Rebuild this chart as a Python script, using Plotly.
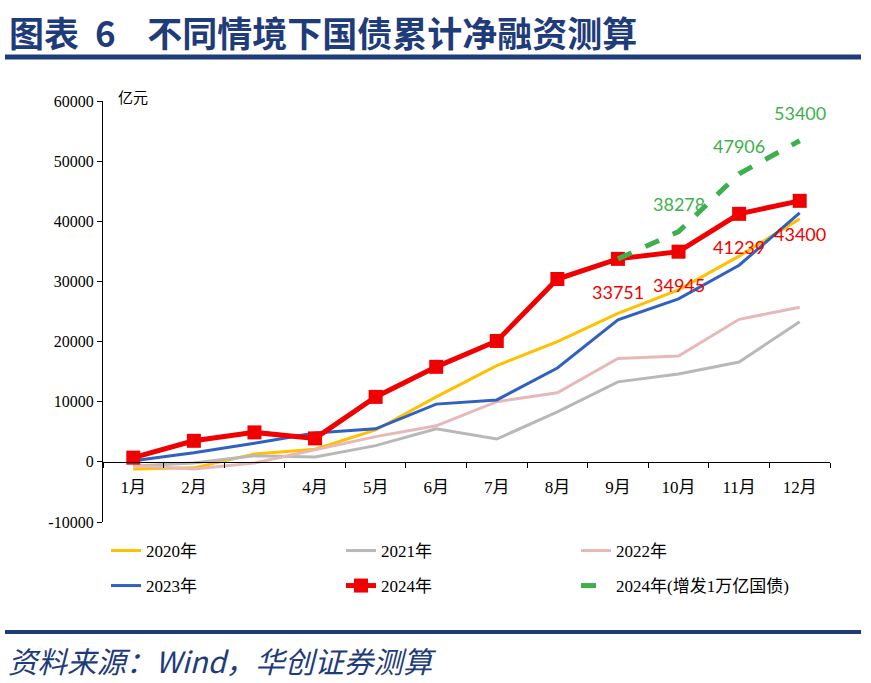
import plotly.graph_objects as go

months = ["1月", "2月", "3月", "4月", "5月", "6月", "7月", "8月", "9月", "10月", "11月", "12月"]
y2020 = [-1200, -1000, 1300, 2100, 5300, 10800, 16000, 20000, 24700, 28600, 34200, 40400]
y2021 = [-700, -200, 1000, 800, 2700, 5500, 3800, 8300, 13300, 14600, 16600, 23300]
y2022 = [-600, -1200, -200, 2000, 4200, 6000, 10000, 11500, 17200, 17600, 23700, 25700]
y2023 = [200, 1500, 3100, 4800, 5500, 9600, 10300, 15600, 23600, 27100, 32700, 41400]
y2024 = [700, 3500, 4900, 3900, 10800, 15800, 20100, 30400, 33751, 34945, 41239, 43400]
extra_months = ["9月", "10月", "11月", "12月"]
y2024_extra = [33751, 38278, 47906, 53400]
red_label_months = ["9月", "10月", "11月", "12月"]
red_labels = [33751, 34945, 41239, 43400]
green_label_months = ["10月", "11月", "12月"]
green_labels = [38278, 47906, 53400]
yticks = [-10000, 0, 10000, 20000, 30000, 40000, 50000, 60000]

W, H = 871, 683
L, R, T, B = 103, 41, 101, 161
pw, ph = W - L - R, H - T - B
def px(x):
    return (x - L) / pw
def py(y):
    return (H - B - y) / ph

NAVY = "#1F3C7A"
serif = "Liberation Serif, Noto Sans CJK SC"

fig = go.Figure()
fig.add_trace(go.Scatter(x=months, y=y2020, mode="lines", name="2020年",
                         line=dict(color="#FFC000", width=3), legend="legend"))
fig.add_trace(go.Scatter(x=months, y=y2021, mode="lines", name="2021年",
                         line=dict(color="#B8B8B8", width=3), legend="legend"))
fig.add_trace(go.Scatter(x=months, y=y2022, mode="lines", name="2022年",
                         line=dict(color="#E6B9B8", width=3), legend="legend"))
fig.add_trace(go.Scatter(x=months, y=y2023, mode="lines", name="2023年",
                         line=dict(color="#2F62C0", width=3), legend="legend2"))
fig.add_trace(go.Scatter(x=months, y=y2024, mode="lines+markers", name="2024年",
                         line=dict(color="#F00000", width=5),
                         marker=dict(symbol="square", size=14, color="#F00000"),
                         legend="legend2"))
fig.add_trace(go.Scatter(x=extra_months, y=y2024_extra, mode="lines", name="2024年(增发1万亿国债)",
                         line=dict(color="#3DB04B", width=5, dash="dash"), legend="legend2"))

annotations = []
for m, v in zip(red_label_months, red_labels):
    annotations.append(dict(x=m, y=v, xref="x", yref="y", text=str(v), showarrow=False,
                            yshift=-33, font=dict(family="Lato", size=18, color="#F00000")))
for m, v in zip(green_label_months, green_labels):
    annotations.append(dict(x=m, y=v, xref="x", yref="y", text=str(v), showarrow=False,
                            yshift=28, font=dict(family="Lato", size=18, color="#3DB04B")))

annotations.append(dict(x=px(7), y=py(32), xref="paper", yref="paper", xanchor="left", yanchor="middle",
                        text="<b>图表  6    不同情境下国债累计净融资测算</b>", showarrow=False,
                        font=dict(family="Noto Sans CJK SC", size=35, color=NAVY)))
annotations.append(dict(x=px(6), y=py(660), xref="paper", yref="paper", xanchor="left", yanchor="middle",
                        text="<i>资料来源：Wind，华创证券测算</i>", showarrow=False,
                        font=dict(family="Noto Sans CJK SC", size=29.5, color=NAVY)))
annotations.append(dict(x=px(116), y=py(97), xref="paper", yref="paper", xanchor="left", yanchor="middle",
                        text="亿元", showarrow=False,
                        font=dict(family="Noto Sans CJK SC", size=15, color="#000000")))

shapes = [
    dict(type="line", xref="paper", yref="paper", x0=px(5), x1=px(861), y0=py(57), y1=py(57),
         line=dict(color=NAVY, width=5)),
    dict(type="line", xref="paper", yref="paper", x0=px(5), x1=px(861), y0=py(632), y1=py(632),
         line=dict(color=NAVY, width=4)),
]

legend_common = dict(orientation="h", xanchor="left", yanchor="middle",
                     font=dict(family=serif, size=17, color="#000000"),
                     entrywidth=190, entrywidthmode="pixels", bgcolor="rgba(0,0,0,0)",
                     itemclick=False, itemdoubleclick=False)

fig.update_layout(
    width=W, height=H,
    margin=dict(l=L, r=R, t=T, b=B),
    paper_bgcolor="white", plot_bgcolor="white",
    showlegend=True,
    legend=dict(x=px(106), y=py(551), **legend_common),
    legend2=dict(x=px(106), y=py(586), **legend_common),
    xaxis=dict(type="category", categoryorder="array", categoryarray=months,
               range=[-0.5, 11.5], anchor="free", position=1/7,
               showline=True, linecolor="#000000", linewidth=1.2,
               ticks="outside", tickson="boundaries", ticklen=5, tickcolor="#000000",
               ticklabelstandoff=10,
               showgrid=False, zeroline=False,
               tickfont=dict(family=serif, size=17, color="#000000")),
    yaxis=dict(range=[-10000, 60000], tickvals=yticks, ticktext=[str(v) for v in yticks],
               showline=True, linecolor="#000000", linewidth=1.2,
               ticks="outside", ticklen=5, tickcolor="#000000",
               showgrid=False, zeroline=False,
               tickfont=dict(family=serif, size=16, color="#000000")),
    annotations=annotations,
    shapes=shapes,
)

fig.write_html("out.html", config={"displayModeBar": False},
               post_script="document.body.style.margin='0';")
